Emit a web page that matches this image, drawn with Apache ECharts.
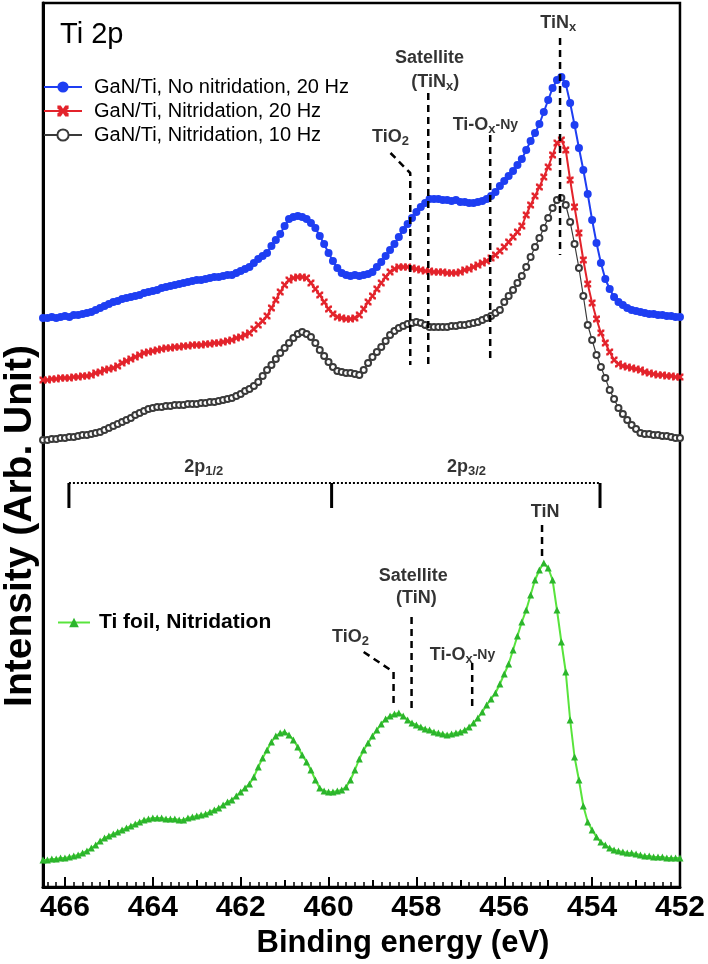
<!DOCTYPE html>
<html><head><meta charset="utf-8">
<script src="https://cdn.jsdelivr.net/npm/echarts@6/dist/echarts.min.js"></script>
<style>html,body{margin:0;padding:0;background:#fff}#c{width:708px;height:964px}</style>
</head><body><div id="c"></div>
<script>
// Binding-energy sample grid (eV), 466.5 -> 452.0 in 0.1 eV steps
const energies = [];
for (let i = 0; i < 146; i++) energies.push(+(466.5 - 0.1 * i).toFixed(1));

const tickLabels = [466, 464, 462, 460, 458, 456, 454, 452];

const nameBlue = 'GaN/Ti, No nitridation, 20 Hz';
const nameRed = 'GaN/Ti, Nitridation, 20 Hz';
const nameGray = 'GaN/Ti, Nitridation, 10 Hz';
const nameGreen = 'Ti foil, Nitridation';

// Intensities (arb. units, vertically offset spectra as in the figure)
const blueNoNitr20 = [569,569,570,569,570,571,570,572,572,573,
574,575,577,579,581,583,585,586,588,589,
590,591,592,594,595,596,597,599,600,601,
602,603,604,605,606,607,607,608,609,610,
610,611,612,612,614,616,618,620,624,628,
631,634,641,647,653,661,668,670,671,670,
668,664,659,651,643,634,626,619,614,612,
611,612,611,612,613,615,620,625,631,637,
643,650,657,663,669,675,680,684,688,688,
688,687,687,686,687,685,685,684,684,685,
686,688,691,695,701,706,711,716,722,728,
737,746,754,763,775,787,799,807,810,803,
784,762,739,717,693,667,644,624,608,598,
590,585,582,579,577,576,575,574,573,573,
572,572,571,571,570,570];

const redNitr20 = [507,507,508,508,509,509,509,510,510,511,
511,512,514,515,517,518,519,521,524,526,
528,530,532,534,535,536,537,538,539,539,
540,540,541,541,542,542,542,543,543,544,
544,545,546,547,549,550,552,554,558,562,
566,571,579,587,595,602,607,609,610,610,
609,604,598,592,585,578,573,570,569,568,
568,569,572,578,585,591,598,604,610,615,
618,620,620,620,619,618,617,616,616,615,
615,615,614,614,614,615,617,618,620,622,
624,626,629,632,636,640,645,650,655,661,
672,682,691,700,710,720,732,744,747,737,
707,680,654,627,603,584,568,554,544,535,
527,523,521,520,519,518,517,515,514,513,
512,512,511,511,510,510];

const grayNitr10 = [447,447,448,448,449,449,450,450,451,452,
452,453,454,455,457,459,461,463,465,467,
469,472,474,476,478,479,480,480,481,481,
482,482,482,483,483,483,484,484,485,485,
486,487,488,489,491,493,496,498,501,505,
511,517,522,528,534,539,544,549,553,555,
553,550,544,537,531,525,520,516,515,514,
514,513,512,517,524,530,535,540,546,552,
556,559,561,563,564,565,564,562,560,560,
560,560,560,561,561,562,562,563,564,565,
567,569,571,574,577,585,591,597,604,611,
620,630,640,649,659,669,679,687,689,682,
665,643,619,591,562,547,532,520,509,497,
488,479,473,467,462,458,454,453,453,452,
452,451,451,450,449,449];

const greenTiFoil = [27,27,28,28,29,29,30,31,32,34,
36,39,42,46,49,51,53,55,57,59,
61,63,65,67,68,69,69,69,68,68,
68,67,67,69,70,71,72,73,75,77,
79,82,85,87,91,95,99,103,110,120,
129,137,145,151,154,155,152,147,140,132,
125,117,107,99,96,95,95,96,97,100,
107,117,128,137,144,151,157,163,168,171,
173,174,171,167,164,162,160,158,157,155,
154,153,152,153,154,155,157,160,164,169,
175,182,188,194,203,213,223,237,251,265,
277,292,307,317,324,319,307,277,245,215,
167,130,107,81,65,57,50,45,42,39,
37,36,35,34,34,33,32,31,31,30,
30,30,29,29,29,29];

// Annotation guide lines (data units: eV, intensity)
const guideDashed = [
  [[458.59,734],[458.14,714],[458.14,522]],
  [[457.73,794],[457.73,522]],
  [[456.32,752],[456.32,527]],
  [[454.73,849],[454.73,632]],
  [[455.14,362],[455.14,329]],
  [[458.11,270],[458.11,174]],
  [[459.20,235],[458.52,215],[458.52,180]],
  [[456.73,224],[456.73,179]]
];
const bracketSpan = [[465.91,404],[453.82,404]];
const bracketTicks = [
  [[465.91,404],[465.91,379]],
  [[459.93,404],[459.93,379]],
  [[453.82,404],[453.82,379]]
];
const annoLabels = [
  [454.77, 864, 'TiN{sub|x}'],
  [457.70, 829, 'Satellite'],
  [457.57, 805, '(TiN{sub|x})'],
  [456.43, 762, 'Ti-O{sub|x}{sm|-Ny}'],
  [458.59, 750, 'TiO{sub|2}'],
  [462.84, 420, '2p{sub|1/2}'],
  [456.86, 420, '2p{sub|3/2}'],
  [455.07, 375, 'TiN'],
  [458.07, 311, 'Satellite'],
  [458.00, 289, '(TiN)'],
  [459.50, 250, 'TiO{sub|2}'],
  [456.95, 232, 'Ti-O{sub|x}{sm|-Ny}']
];

const FONT = "'Liberation Sans', Arial, sans-serif";
const pairs = vals => vals.map((v, i) => [energies[i], v]);
const xPath = 'path://M0,0 L3,0 L5,3 L7,0 L10,0 L10,3 L7,5 L10,7 L10,10 L7,10 L5,7 L3,10 L0,10 L0,7 L3,5 L0,3 Z';

const series = [
  { name: nameBlue, type: 'line', data: pairs(blueNoNitr20), showAllSymbol: true,
    symbol: 'circle', symbolSize: 8, itemStyle: { color: '#1e3ef2' },
    lineStyle: { color: '#1e3ef2', width: 2 } },
  { name: nameRed, type: 'line', data: pairs(redNitr20), showAllSymbol: true,
    symbol: xPath, symbolSize: 7, itemStyle: { color: '#e3232b' },
    lineStyle: { color: '#e3232b', width: 2 } },
  { name: nameGray, type: 'line', data: pairs(grayNitr10), showAllSymbol: true,
    symbol: 'emptyCircle', symbolSize: 6, itemStyle: { color: '#3a3a3a', borderWidth: 1.3 },
    lineStyle: { color: '#3a3a3a', width: 1.2 } },
  { name: nameGreen, type: 'line', data: pairs(greenTiFoil), showAllSymbol: true,
    symbol: 'triangle', symbolSize: 7, itemStyle: { color: '#2cb52c' },
    lineStyle: { color: '#58e43c', width: 2 } }
];
guideDashed.forEach(d => series.push({ type: 'line', data: d, symbol: 'none', silent: true,
  lineStyle: { color: '#000', width: 2.5, type: [7, 5] }, z: 5 }));
series.push({ type: 'line', data: bracketSpan, symbol: 'none', silent: true,
  lineStyle: { color: '#000', width: 2, type: [2, 2] } });
bracketTicks.forEach(d => series.push({ type: 'line', data: d, symbol: 'none', silent: true,
  lineStyle: { color: '#000', width: 3 } }));
series.push({
  type: 'scatter', symbolSize: 0, silent: true, z: 6,
  data: annoLabels.map(a => ({ value: [a[0], a[1]], label: { formatter: a[2] } })),
  label: { show: true, position: 'inside', color: '#000', fontFamily: FONT, fontWeight: 'bold',
    fontSize: 18, lineHeight: 22,
    rich: {
      sub: { fontSize: 13, fontWeight: 'bold', fontFamily: FONT, verticalAlign: 'bottom', lineHeight: 12, color: '#000' },
      sm: { fontSize: 14, fontWeight: 'bold', fontFamily: FONT, color: '#000' }
    } }
});

const chart = echarts.init(document.getElementById('c'), null, { renderer: 'canvas' });
chart.setOption({
  animation: false,
  backgroundColor: '#fff',
  title: { text: 'Ti 2p', left: 60, top: 20, padding: 0,
    textStyle: { fontSize: 29, fontWeight: 'normal', color: '#000', fontFamily: FONT } },
  legend: [
    { data: [nameBlue, nameRed, nameGray], orient: 'vertical', left: 43, top: 77, padding: 0,
      itemWidth: 38, itemHeight: 14, itemGap: 4,
      textStyle: { fontSize: 20, lineHeight: 20, color: '#000', fontFamily: FONT, padding: [0, 0, 0, 7] } },
    { data: [nameGreen], orient: 'vertical', left: 57, top: 612, padding: 0,
      itemWidth: 32, itemHeight: 12,
      textStyle: { fontSize: 21, lineHeight: 21, fontWeight: 'bold', color: '#000', fontFamily: FONT, padding: [0, 0, 0, 4] } }
  ],
  grid: { left: 43, right: 27, top: 3, bottom: 77, show: true, borderColor: '#000', borderWidth: 2.5 },
  xAxis: [
    { type: 'value', min: 452, max: 466.5, inverse: true, interval: 2,
      axisLine: { lineStyle: { color: '#000', width: 3 } },
      axisTick: { inside: true, length: 10, lineStyle: { width: 2, color: '#000' } },
      axisLabel: { fontSize: 30, fontWeight: 'bold', color: '#000', fontFamily: FONT, margin: 6,
        showMaxLabel: false, formatter: v => (tickLabels.indexOf(v) >= 0 ? String(v) : '') },
      splitLine: { show: false } },
    { type: 'value', min: 452, max: 466.5, inverse: true, interval: 1, position: 'bottom',
      axisLine: { show: false }, axisLabel: { show: false }, splitLine: { show: false },
      axisTick: { inside: true, length: 7, lineStyle: { width: 2, color: '#000' } } },
    { type: 'value', min: 452, max: 466.5, inverse: true, interval: 0.2, position: 'bottom',
      axisLine: { show: false }, axisLabel: { show: false }, splitLine: { show: false },
      axisTick: { inside: true, length: 5, lineStyle: { width: 1.5, color: '#000' } } }
  ],
  yAxis: { type: 'value', min: 0, max: 884,
    axisLine: { show: true, lineStyle: { color: '#000', width: 3 } },
    axisTick: { show: false }, axisLabel: { show: false }, splitLine: { show: false } },
  graphic: [
    { type: 'text', x: 20, y: 526, rotation: Math.PI / 2,
      style: { text: 'Intensity (Arb. Unit)', font: "bold 39px 'Liberation Sans', Arial, sans-serif",
        fill: '#000', align: 'center', verticalAlign: 'middle' } },
    { type: 'text', x: 403, y: 943,
      style: { text: 'Binding energy (eV)', font: "bold 31px 'Liberation Sans', Arial, sans-serif",
        fill: '#000', align: 'center', verticalAlign: 'middle' } }
  ],
  series: series
});
</script>
</body></html>
